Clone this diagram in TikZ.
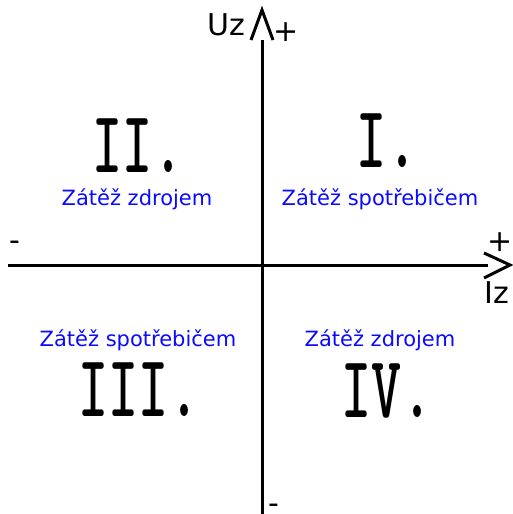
\documentclass[tikz,border=0pt]{standalone}
\usepackage{fontspec}
\setmainfont{DejaVu Sans}
\newfontfamily\numfont[FakeStretch=0.65]{lmmonolt10-bold.otf}
\usetikzlibrary{positioning}
\definecolor{zatezblue}{RGB}{10,10,255}
\tikzset{
  axisline/.style={line width=3pt,black,line cap=butt},
  arrowhd/.style={line width=3pt,black,line join=miter},
  quadnum/.style={font=\numfont\fontsize{88}{88}\selectfont,anchor=base,inner sep=0pt,text height=54pt,text depth=0pt},
  quadtext/.style={font=\fontsize{21}{21}\selectfont,text=zatezblue,anchor=base,inner sep=0pt},
  axislabel/.style={font=\fontsize{30}{30}\selectfont,inner sep=0pt},
}

\begin{document}
\begin{tikzpicture}[x=1pt,y=-1pt]
  \useasboundingbox (0,0) rectangle (512,514);
  % axes
  \coordinate (hL) at (8,265);
  \coordinate (hEnd) at (488,265);
  \coordinate (hTip) at (510,265);
  \coordinate (hArmA) at (484,253);
  \coordinate (hArmB) at (484,278);
  \coordinate (vB) at (262,514);
  \coordinate (vEnd) at (262,40);
  \coordinate (vTip) at (262,10);
  \coordinate (vArmA) at (251,40);
  \coordinate (vArmB) at (273,40);
  \draw[axisline] (hL) -- (hEnd);
  \draw[arrowhd] (hArmA) -- (hTip) -- (hArmB);
  \draw[axisline] (vB) -- (vEnd);
  \draw[arrowhd] (vArmA) -- (vTip) -- (vArmB);
  % axis labels
  \node[axislabel,anchor=base] (lUz) at (226,35) {Uz};
  \node[axislabel] (lUp) at (286,32) {+};
  \node[axislabel] (lRp) at (500,242) {+};
  \node[axislabel,anchor=base] (lIz) at (497,303) {Iz};
  \node[axislabel] (lLm) at (15,246) {-};
  \node[axislabel,anchor=base] (lBm) at (274,513) {-};
  % quadrants
  \node[quadnum] (q1) at (387,167) {I.};
  \node[quadnum] (q2) at (138,172) {II.};
  \node[quadnum] (q3) at (139,416) {III.};
  \node[quadnum] (q4) at (387,417) {IV.};
  \node[quadtext] (t1) at (380,205) {Zátěž spotřebičem};
  \node[quadtext] (t2) at (137,205) {Zátěž zdrojem};
  \node[quadtext] (t3) at (138,346) {Zátěž spotřebičem};
  \node[quadtext] (t4) at (380,346) {Zátěž zdrojem};
\end{tikzpicture}
\end{document}
